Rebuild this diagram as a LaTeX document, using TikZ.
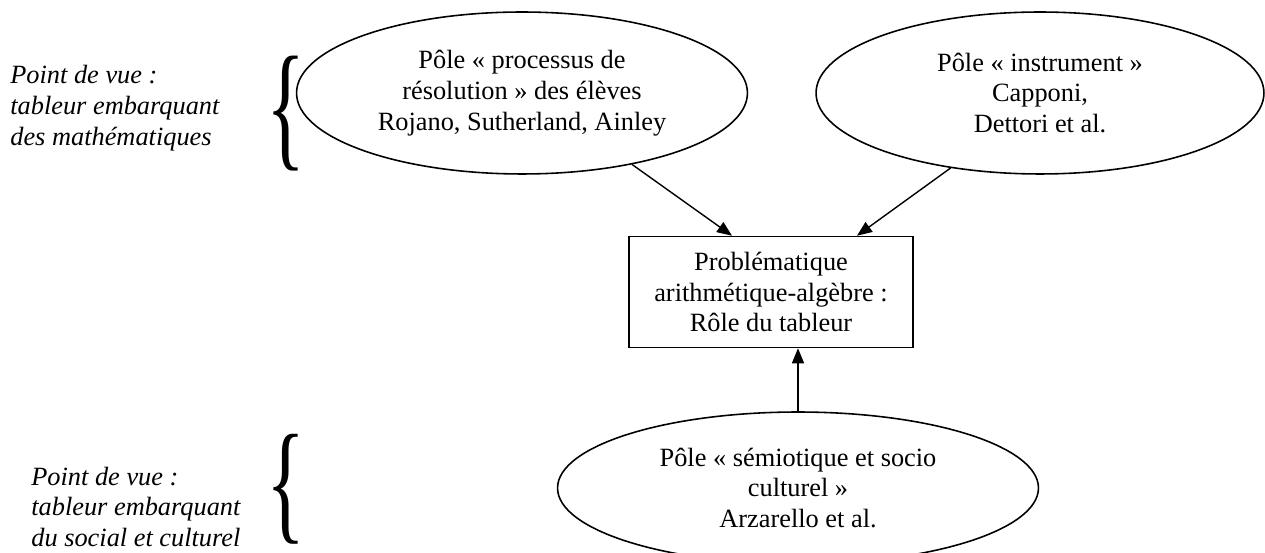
\documentclass[tikz,border=0pt]{standalone}
\usepackage{fontspec}
\setmainfont{Liberation Serif}
\usepackage{graphicx}
\usetikzlibrary{arrows.meta,shapes.geometric}

\tikzstyle{pole} = [draw, line width=0.9pt, ellipse, inner sep=0pt,
    align=center, font=\fontsize{15}{17.6}\selectfont]
\tikzstyle{probbox} = [draw, line width=0.9pt, rectangle, inner sep=0pt,
    minimum width=5.68cm, minimum height=2.22cm, align=center,
    font=\fontsize{15}{17.6}\selectfont]
\tikzstyle{vue} = [anchor=west, inner sep=0pt, align=left,
    font=\fontsize{15}{17.6}\selectfont\itshape]
\tikzstyle{accolade} = [inner sep=0pt]
\tikzstyle{fleche} = [-{Triangle[length=0.3cm,width=0.24cm]}, line width=0.8pt]

\begin{document}
\begin{tikzpicture}[x=0.02cm, y=-0.02cm]
\useasboundingbox (0,0) rectangle (1265,553);
\clip (0,0) rectangle (1265,553);

\node [vue] (vuemath) at (10,108) {Point de vue :\\ tableur embarquant\\ des mathématiques};
\node [vue] (vuesocial) at (31,507) {Point de vue :\\ tableur embarquant\\ du social et culturel};
\node [accolade] (accsup) at (286,114) {\resizebox*{0.78cm}{2.3cm}{\{}};
\node [accolade] (accinf) at (286,489) {\resizebox*{0.78cm}{2.2cm}{\{}};

\node [pole, minimum width=9.02cm, minimum height=3.24cm] (resolution) at (522,93)
    {Pôle « processus de\\ résolution » des élèves\\ Rojano, Sutherland, Ainley};
\node [pole, minimum width=8.96cm, minimum height=3.24cm] (instrument) at (1040,93)
    {Pôle « instrument »\\ Capponi,\\ Dettori et al.};
\node [probbox] (prob) at (771,292)
    {Problématique\\ arithmétique-algèbre :\\ Rôle du tableur};
\node [pole, minimum width=9.62cm, minimum height=3.04cm] (semio) at (798,488)
    {Pôle « sémiotique et socio\\ culturel »\\ Arzarello et al.};

\draw [fleche] (resolution.-33) -- ([xshift=-0.78cm]prob.north);
\draw [fleche] (instrument.-140) -- ([xshift=1.72cm]prob.north);
\draw [fleche] (semio.north) -- (semio.north |- prob.south);
\end{tikzpicture}
\end{document}
